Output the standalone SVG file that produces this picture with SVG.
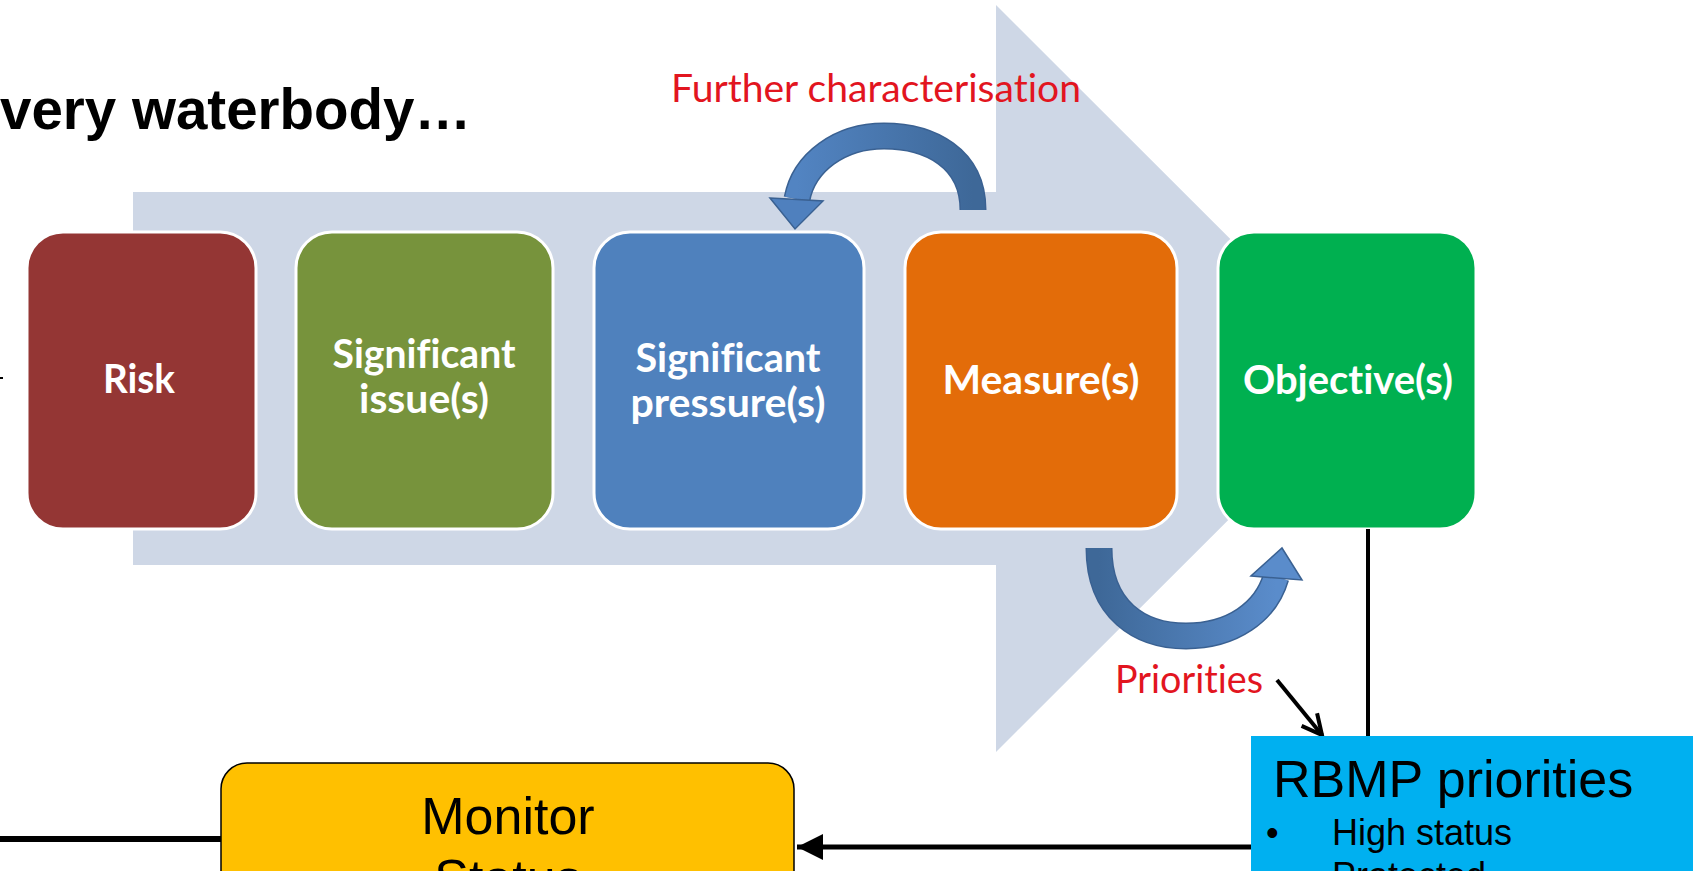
<svg xmlns="http://www.w3.org/2000/svg" width="1693" height="871" viewBox="0 0 1693 871">
<style>
.box{stroke:#ffffff;stroke-width:3}
.btxt{font-family:Lato,"Open Sans",sans-serif;font-weight:bold;font-size:41px;fill:#ffffff;text-anchor:middle;font-variant-ligatures:none}
.red{font-family:Lato,"Open Sans",sans-serif;font-size:39px;fill:#E2151F;font-variant-ligatures:none}
.conn{stroke:#000000;fill:none}
.arial{font-family:"Liberation Sans",Arial,sans-serif;fill:#000000}
.curve-outline{fill:none;stroke:#3A6192;stroke-width:27}
</style>
<defs>
<linearGradient id="gTop" x1="0" y1="0" x2="1" y2="0">
<stop offset="0" stop-color="#5284C2"/>
<stop offset="1" stop-color="#3E6898"/>
</linearGradient>
<linearGradient id="gBot" x1="0" y1="0" x2="1" y2="0">
<stop offset="0" stop-color="#3E6898"/>
<stop offset="1" stop-color="#5A8CCB"/>
</linearGradient>
<marker id="mFill" markerUnits="userSpaceOnUse" markerWidth="28" markerHeight="28" refX="26" refY="13" orient="auto">
<polygon points="0,0 26,13 0,26" fill="#000000"/>
</marker>
<marker id="mOpen" markerUnits="userSpaceOnUse" markerWidth="30" markerHeight="30" refX="22" refY="12" orient="auto">
<polyline points="2,2 22,12 2,22" fill="none" stroke="#000000" stroke-width="4"/>
</marker>
</defs>
<rect width="1693" height="871" fill="#ffffff"/>

<g id="flow-arrow">
<polygon points="133,192 996,192 996,5 1370,378.5 996,752 996,565 133,565" fill="#CED7E6"/>
</g>

<g id="title">
<text class="arial" x="0" y="129" font-size="56.5" font-weight="bold">very waterbody…</text>
</g>

<g id="further-characterisation">
<path class="curve-outline" d="M 973 210 C 973 158, 930 136, 884 136 C 840 136, 804 162, 797 199"/>
<path d="M 973 210 C 973 158, 930 136, 884 136 C 840 136, 804 162, 797 199" fill="none" stroke="url(#gTop)" stroke-width="24"/>
<polygon points="770,198 823,201 795,229" fill="#4F80BE" stroke="#3A6192" stroke-width="1.5"/>
<text class="red" x="671" y="102" textLength="410" lengthAdjust="spacingAndGlyphs">Further characterisation</text>
</g>

<g id="priorities">
<path class="curve-outline" d="M 1099 548 C 1099 610, 1140 636, 1186 636 C 1232 636, 1266 612, 1276 577"/>
<path d="M 1099 548 C 1099 610, 1140 636, 1186 636 C 1232 636, 1266 612, 1276 577" fill="none" stroke="url(#gBot)" stroke-width="24"/>
<polygon points="1251,576 1302,580 1282,548" fill="#5A8CCB" stroke="#3A6192" stroke-width="1.5"/>
<text class="red" x="1115" y="693" textLength="148" lengthAdjust="spacingAndGlyphs">Priorities</text>
</g>

<g id="risk">
<rect class="box" x="27" y="232" width="229" height="297" rx="36" fill="#943634"/>
<text class="btxt" x="139" y="393" textLength="72" lengthAdjust="spacingAndGlyphs">Risk</text>
</g>

<g id="significant-issues">
<rect class="box" x="296" y="232" width="257" height="297" rx="36" fill="#77933C"/>
<text class="btxt"><tspan x="424" y="368" textLength="183" lengthAdjust="spacingAndGlyphs">Significant</tspan><tspan x="424" y="413" textLength="130" lengthAdjust="spacingAndGlyphs">issue(s)</tspan></text>
</g>

<g id="significant-pressures">
<rect class="box" x="594" y="232" width="270" height="297" rx="36" fill="#4F81BD"/>
<text class="btxt"><tspan x="728" y="372" textLength="185" lengthAdjust="spacingAndGlyphs">Significant</tspan><tspan x="728" y="417" textLength="195" lengthAdjust="spacingAndGlyphs">pressure(s)</tspan></text>
</g>

<g id="measures">
<rect class="box" x="905" y="232" width="272" height="297" rx="36" fill="#E36C09"/>
<text class="btxt" x="1041" y="394" textLength="197" lengthAdjust="spacingAndGlyphs">Measure(s)</text>
</g>

<g id="objectives">
<rect class="box" x="1218" y="232" width="258" height="297" rx="36" fill="#00B050"/>
<text class="btxt" x="1348" y="394" textLength="210" lengthAdjust="spacingAndGlyphs">Objective(s)</text>
</g>

<g id="connectors">
<line class="conn" x1="1368" y1="529" x2="1368" y2="737" stroke-width="4"/>
<line class="conn" x1="1277" y1="680" x2="1322" y2="735" stroke-width="4" marker-end="url(#mOpen)"/>
<line class="conn" x1="1252" y1="847" x2="797" y2="847" stroke-width="5" marker-end="url(#mFill)"/>
<line class="conn" x1="0" y1="839" x2="221" y2="839" stroke-width="6"/>
<line class="conn" x1="0" y1="378" x2="3" y2="378" stroke-width="2"/>
</g>

<g id="monitor-status">
<rect x="221" y="763" width="573" height="200" rx="26" fill="#FFC000" stroke="#000000" stroke-width="1.5"/>
<text class="arial" font-size="52" text-anchor="middle"><tspan x="508" y="834">Monitor</tspan><tspan x="508" y="896">Status</tspan></text>
</g>

<g id="rbmp-priorities">
<rect x="1251" y="736" width="460" height="200" fill="#00B0F0"/>
<text class="arial" x="1273" y="797" font-size="52">RBMP priorities</text>
<text class="arial" x="1266" y="845" font-size="36">•</text>
<text class="arial" x="1332" y="845" font-size="36">High status</text>
<text class="arial" x="1266" y="888" font-size="36">•</text>
<text class="arial" x="1332" y="888" font-size="36">Protected</text>
</g>
</svg>
